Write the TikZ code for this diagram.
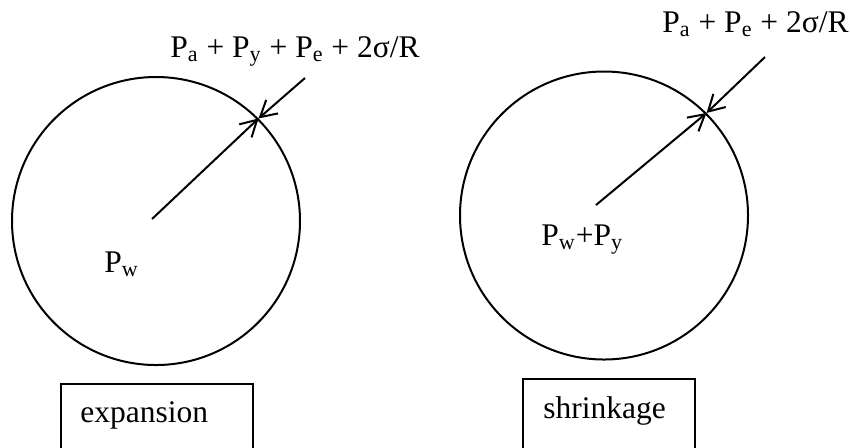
\documentclass[tikz,border=0pt]{standalone}
\usepackage{fontspec}
\setmainfont{Liberation Serif}
\usetikzlibrary{arrows.meta}
\newcommand{\sbs}[1]{\textsubscript{#1}}
\begin{document}
\begin{tikzpicture}[x=0.5pt,y=-0.5pt,
  every node/.style={font=\fontsize{15.75}{19}\selectfont},
  bubble/.style={draw, circle, line width=1pt, minimum size=144pt, inner sep=0pt},
  lbl/.style={anchor=base west, inner sep=0pt},
  boxed/.style={draw, rectangle, line width=0.8pt, anchor=north west, inner sep=0pt},
  pres/.style={-{Straight Barb[length=8pt,width=9pt,line width=1pt]}, line width=1pt}
]
\clip (0,0) rectangle (850,447);
\fill[white] (0,0) rectangle (850,447);

% left: expansion
\node[bubble] (c1) at (156,221) {};
\coordinate (o1) at (152,219);
\coordinate (s1) at (305,78);
\draw[pres] (o1) -- (c1.45);
\draw[pres] (s1) -- (c1.45);
\node[lbl] (t1) at (170,57) {P\sbs{a} + P\sbs{y} + P\sbs{e} + 2σ/R};
\node[lbl] (w1) at (104,272) {P\sbs{w}};
\node[boxed, minimum width=96pt, minimum height=50pt] (b1) at (60,383) {};
\node[lbl] (e1) at (80,422) {expansion};

% right: shrinkage
\node[bubble] (c2) at (604,215.5) {};
\coordinate (o2) at (596,205);
\coordinate (s2) at (765,57);
\draw[pres] (o2) -- (c2.45);
\draw[pres] (s2) -- (c2.45);
\node[lbl] (t2) at (662,32) {P\sbs{a} + P\sbs{e} + 2σ/R};
\node[lbl] (w2) at (541,245) {P\sbs{w}+P\sbs{y}};
\node[boxed, minimum width=86pt, minimum height=50pt] (b2) at (522,378) {};
\node[lbl] (e2) at (543,418) {shrinkage};
\end{tikzpicture}
\end{document}
